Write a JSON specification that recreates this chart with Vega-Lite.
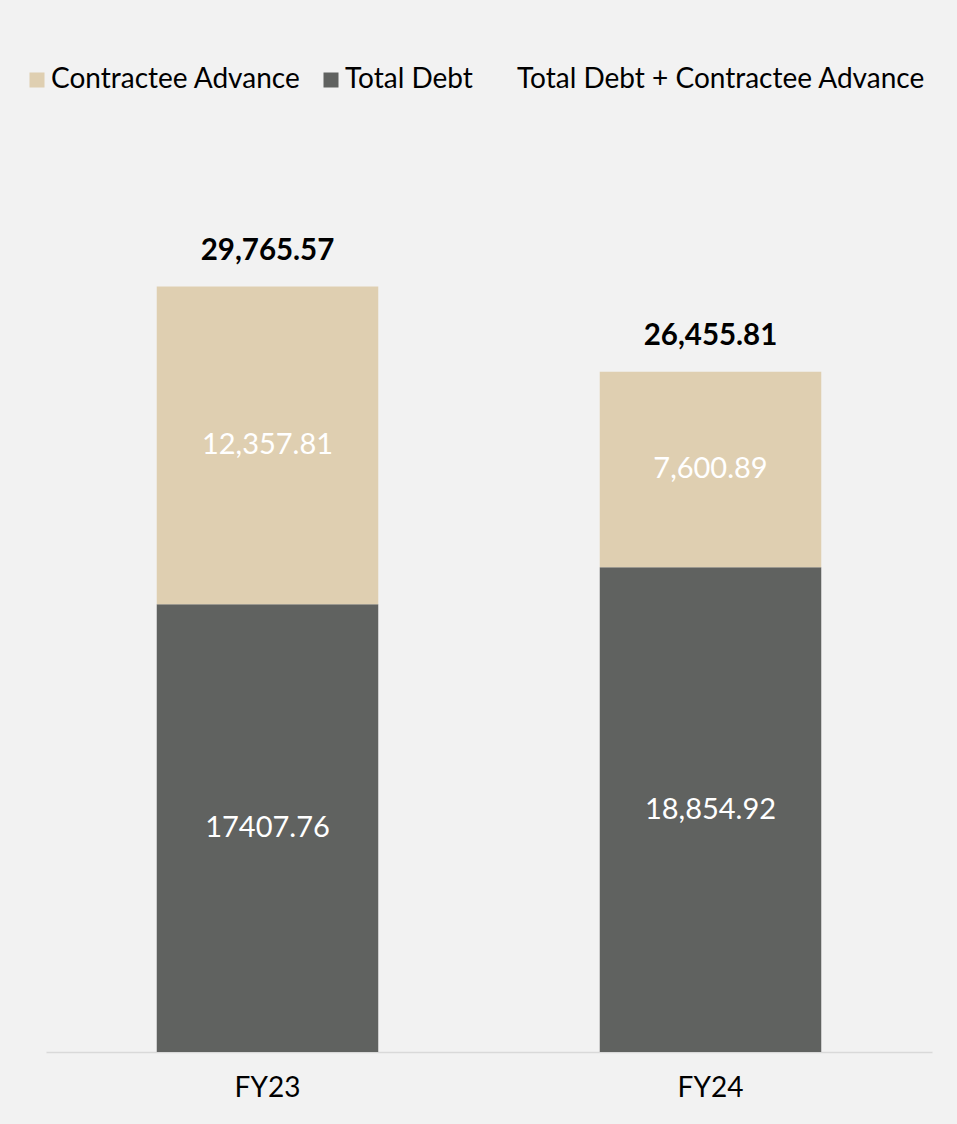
{
  "$schema": "https://vega.github.io/schema/vega-lite/v6.json",
  "autosize": {"type": "none"},
  "padding": {"left": 46, "top": 152, "right": 25, "bottom": 72},
  "width": 886,
  "height": 900,
  "background": "#f2f2f2",
  "config": {
    "view": {"stroke": null},
    "font": "Lato"
  },
  "datasets": {
    "segments": [
      {"year": "FY23", "series": "Total Debt", "value": 17407.76, "label": "17407.76"},
      {"year": "FY23", "series": "Contractee Advance", "value": 12357.81, "label": "12,357.81"},
      {"year": "FY24", "series": "Total Debt", "value": 18854.92, "label": "18,854.92"},
      {"year": "FY24", "series": "Contractee Advance", "value": 7600.89, "label": "7,600.89"}
    ],
    "totals": [
      {"year": "FY23", "total": 29765.57, "label": "29,765.57"},
      {"year": "FY24", "total": 26455.81, "label": "26,455.81"}
    ]
  },
  "encoding": {
    "x": {
      "field": "year",
      "type": "nominal",
      "title": null,
      "scale": {"paddingInner": 0.5, "paddingOuter": 0.25},
      "axis": {
        "labelAngle": 0,
        "labelFont": "Lato",
        "labelFontSize": 28,
        "labelColor": "#000000",
        "labelPadding": 22,
        "ticks": false,
        "domainColor": "#d9d9d9",
        "domainWidth": 1.5
      }
    }
  },
  "layer": [
    {
      "data": {"name": "segments"},
      "mark": {"type": "bar"},
      "encoding": {
        "y": {"field": "value", "type": "quantitative", "stack": "zero", "scale": {"domain": [0, 35000]}, "axis": null},
        "color": {
          "field": "series",
          "type": "nominal",
          "scale": {
            "domain": ["Contractee Advance", "Total Debt", "Total Debt + Contractee Advance"],
            "range": ["#dfcfb1", "#606260", "transparent"]
          },
          "legend": {
            "orient": "none",
            "legendX": -23,
            "legendY": -86,
            "padding": 0,
            "direction": "horizontal",
            "title": null,
            "symbolType": "square",
            "symbolSize": 225,
            "symbolStrokeWidth": 0,
            "labelFont": "Lato",
            "labelFontSize": 28,
            "labelColor": "#000000",
            "labelOffset": 0,
            "columnPadding": 16,
            "labelLimit": 600
          }
        },
        "order": {"field": "series", "sort": "descending"}
      }
    },
    {
      "data": {"name": "segments"},
      "mark": {"type": "text", "color": "#ffffff", "fontSize": 29, "font": "Lato"},
      "encoding": {
        "y": {"field": "value", "type": "quantitative", "stack": "zero", "bandPosition": 0.5},
        "detail": {"field": "series"},
        "order": {"field": "series", "sort": "descending"},
        "text": {"field": "label"}
      }
    },
    {
      "data": {"name": "totals"},
      "mark": {"type": "text", "color": "#000000", "fontSize": 29.5, "fontWeight": "bold", "font": "Lato", "dy": -36},
      "encoding": {
        "y": {"field": "total", "type": "quantitative"},
        "text": {"field": "label"}
      }
    }
  ]
}
